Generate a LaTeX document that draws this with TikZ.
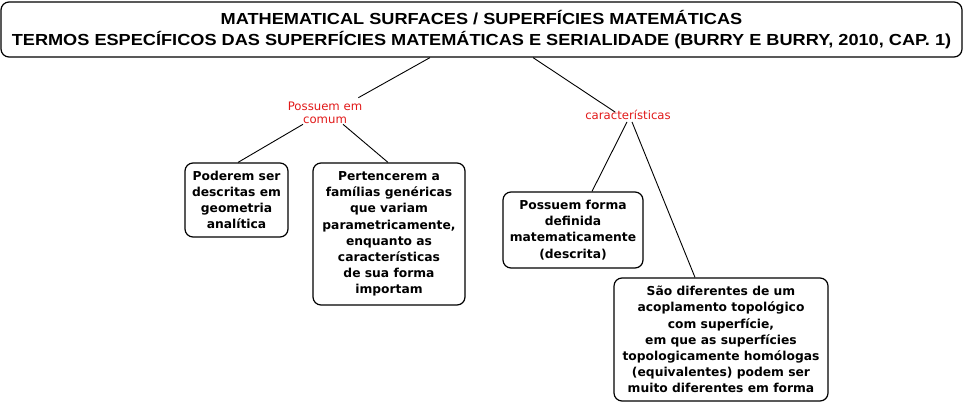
\documentclass[tikz,border=0pt]{standalone}
\usepackage{fontspec}
\setmainfont{DejaVu Sans}
\newfontfamily\titlefont[FakeStretch=1.135]{Liberation Sans}
\newfontfamily\boxfont{DejaVu Sans}
\definecolor{lblred}{RGB}{225,25,25}
\begin{document}
\begin{tikzpicture}[x=1pt,y=-1pt,
  box/.style={draw=black,line width=1.2pt,rounded corners=8pt,align=center,
    inner sep=0pt,font=\boxfont\bfseries\fontsize{12.3}{16.2}\selectfont},
  lbl/.style={text=lblred,align=center,inner sep=0pt,font=\boxfont\fontsize{11.7}{13.5}\selectfont},
  conn/.style={draw=black,line width=0.9pt}]
\useasboundingbox (0,0) rectangle (965,404);
\node[box,minimum width=961pt,minimum height=55pt,
  font=\titlefont\bfseries\fontsize{16}{21}\selectfont] (top) at (481.5,29.5)
  {MATHEMATICAL SURFACES / SUPERFÍCIES MATEMÁTICAS\\
   TERMOS ESPECÍFICOS DAS SUPERFÍCIES MATEMÁTICAS E SERIALIDADE (BURRY E BURRY, 2010, CAP. 1)};
\node[lbl] (lab1) at (325,113) {Possuem em\\comum};
\node[lbl] (lab2) at (628,115) {características};
\node[box,minimum width=103pt,minimum height=74pt] (b1) at (236.5,200)
  {Poderem ser\\descritas em\\geometria\\analítica};
\node[box,minimum width=152pt,minimum height=142pt] (b2) at (389,234)
  {Pertencerem a\\famílias genéricas\\que variam\\parametricamente,\\enquanto as\\características\\de sua forma\\importam};
\node[box,minimum width=140pt,minimum height=76pt] (b3) at (573,230)
  {Possuem forma\\definida\\matematicamente\\(descrita)};
\node[box,minimum width=214pt,minimum height=123pt] (b4) at (721,339.5)
  {São diferentes de um\\acoplamento topológico\\com superfície,\\em que as superfícies\\topologicamente homólogas\\(equivalentes) podem ser\\muito diferentes em forma};
\draw[conn] ([xshift=-51.5pt]top.south) -- ([shift={(-4pt,4pt)}]lab1.north east);
\draw[conn] ([xshift=51.5pt]top.south) -- ([shift={(30pt,-2pt)}]lab2.north west);
\draw[conn] ([xshift=-22pt]lab1.south) -- ([xshift=1.5pt]b1.north);
\draw[conn] ([xshift=18pt]lab1.south) -- ([xshift=-1pt]b2.north);
\draw[conn] ([xshift=-1pt,yshift=-2pt]lab2.south) -- ([xshift=19pt]b3.north);
\draw[conn] ([xshift=4pt,yshift=-2pt]lab2.south) -- ([xshift=-26pt]b4.north);
\end{tikzpicture}
\end{document}
